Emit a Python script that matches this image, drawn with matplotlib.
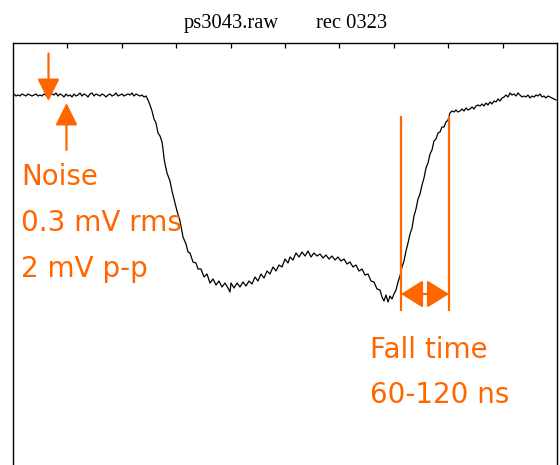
import matplotlib
matplotlib.use("Agg")
import matplotlib.pyplot as plt
import numpy as np

# trace: time in ns, amplitude in mV
time_ns = [
    2, 6, 10, 14, 18, 22, 26, 30, 34, 38, 42, 46, 50, 54, 58, 62, 66, 70, 74, 78,
    82, 86, 90, 94, 98, 102, 106, 110, 114, 118, 122, 126, 130, 134, 138, 142, 146, 150, 154, 158,
    162, 166, 170, 174, 178, 182, 186, 190, 194, 198, 202, 206, 210, 214, 218, 222, 226, 230, 234, 238,
    242, 246, 250, 254, 258, 262, 266, 270, 274, 278, 282, 286, 290, 294, 298, 300, 302, 304, 308, 314,
    318, 322, 328, 334, 340, 346, 350, 354, 360, 366, 370, 376, 382, 388, 394, 400, 406, 412, 418, 424,
    430, 434, 436, 442, 448, 454, 460, 466, 472, 478, 484, 490, 496, 502, 508, 514, 520, 526, 532, 538,
    544, 550, 554, 560, 566, 572, 578, 584, 590, 596, 602, 608, 614, 620, 626, 632, 638, 644, 650, 656,
    662, 668, 674, 680, 686, 692, 698, 704, 710, 716, 722, 728, 734, 738, 742, 746, 750, 754, 758, 762,
    766, 770, 774, 778, 782, 786, 790, 794, 798, 802, 806, 810, 814, 818, 822, 826, 830, 834, 838, 842,
    846, 850, 854, 858, 862, 866, 870, 874, 878, 882, 886, 890, 894, 898, 902, 906, 910, 914, 918, 922,
    926, 930, 934, 938, 942, 946, 950, 954, 958, 962, 966, 970, 974, 978, 982, 986, 990, 994, 998, 1002,
    1006, 1010, 1014, 1018, 1022, 1026, 1030, 1034, 1038, 1042, 1046, 1050, 1054, 1058, 1062, 1066, 1070, 1074, 1078, 1082,
    1086,
]
signal_mv = [
    0.5, -0.5, 0, -0.5, 0.5, 0, -0.5, 0.5, 0, -0.5, 0, 0.5, -0.5, 0, -0.5, 0.5, 0, -1, 0, 0.5,
    0, 1, -0.5, 0.5, 0, -1, 0.5, -0.5, 0, -1, 0.5, -0.5, 0, 1, -0.5, 0.5, 0, -1, 0.5, 1,
    -0.5, 0.5, 0, -0.5, 0.5, 0, -1, 0, 0.5, -0.5, 0, 1, -0.5, 0, 0.5, -0.5, 0, 0.5, 0, 1,
    -0.5, 0.5, 0, -0.5, 0, -1, -0.5, -2.5, -5, -8, -12, -14, -19, -20.5, -23.5, -27, -31.5, -34.5, -39, -43,
    -48, -52, -58, -63, -71, -74.5, -78.5, -79, -83.5, -84, -87, -87, -91, -89.5, -94, -92, -95, -93, -96, -94,
    -96.5, -98.5, -94, -96.5, -94, -96, -93.5, -95.5, -93, -94.5, -91, -93, -89.5, -91.5, -88, -89.5, -86, -88, -85, -86,
    -82, -84, -81, -82.5, -79, -81, -78.5, -80.5, -78, -81, -79, -80.5, -79.5, -81.5, -80, -82, -80.5, -82.5, -81, -83,
    -82, -84.5, -83.5, -86, -85, -88, -87, -90, -89.5, -93, -93.5, -97, -97.5, -101, -103, -100, -103.5, -100.5, -102, -99.5,
    -97.5, -93.5, -90.5, -86, -83, -78, -74, -69.5, -66.5, -60.5, -57, -52, -49.5, -45, -41.5, -36.5, -34, -29.5, -27.5, -23,
    -22, -19, -18.5, -16, -16, -13.5, -12.5, -9, -8, -8.5, -7.5, -8.5, -8, -7, -8, -6.5, -7.5, -7, -6, -7,
    -5.5, -5, -5.5, -4.5, -5.5, -4, -5, -3.5, -4.5, -3, -3.5, -2, -3, -1.5, -1, 0, -1, 1, 0, 0.5,
    -0.5, 1, 0, -1, -0.5, -1, 0, -1.5, -0.5, -1, 0, -0.5, 0.5, -1, -0.5, -1.5, -0.5, -1, -1.5, -2,
    -2.5,
]

title_left, title_right = "ps3043.raw", "rec 0323"
noise_lines = ["Noise", "0.3 mV rms", "2 mV p-p"]
fall_lines = ["Fall time", "60-120 ns"]
fall_start, fall_end = 776, 872  # ns, the two markers

ORANGE = "#FF6600"

fig = plt.figure(figsize=(5.6, 4.65), dpi=100)
# the box runs off the bottom of the picture
ax = fig.add_axes([13 / 560, 1 - 520 / 465, 544 / 560, (520 - 42.7) / 465])
ax.plot(time_ns, signal_mv, color="black", lw=0.9)
ax.set_xlim(0, 1088)
ax.set_ylim(-212.5, 26.15)

ax.set_xticks(np.linspace(0, 1088, 11)[1:-1])
ax.set_yticks([])
ax.tick_params(axis="x", direction="in", length=3.8, width=0.9, top=True, bottom=True,
               labeltop=False, labelbottom=False)
for s in ax.spines.values():
    s.set_linewidth(1.0)

ty = 1 - 28.3 / 465
fig.text(184 / 560, ty, title_left, ha="left", va="baseline",
         family="Liberation Serif", fontsize=14.8)
fig.text(316 / 560, ty, title_right, ha="left", va="baseline",
         family="Liberation Serif", fontsize=14.8)

# noise arrows
head = dict(arrowstyle="-|>,head_length=0.8,head_width=0.4", mutation_scale=17,
            color=ORANGE, lw=1.6, shrinkA=0, shrinkB=0)
ax.annotate("", xy=(71, -3), xytext=(71, 20.8), arrowprops=head)
ax.annotate("", xy=(107, -4), xytext=(107, -27.5), arrowprops=head)

for i, txt in enumerate(noise_lines):
    ax.text(16, -45 - 23 * i, txt, color=ORANGE, fontsize=20, va="baseline", ha="left")

# fall time markers
for t in (fall_start, fall_end):
    ax.plot([t, t], [-11, -107.5], color=ORANGE, lw=1.6)
ax.annotate("", xy=(fall_start, -99.5), xytext=(fall_end, -99.5),
            arrowprops=dict(arrowstyle="<|-|>,head_length=0.8,head_width=0.5",
                            mutation_scale=17, color=ORANGE, lw=1.6,
                            shrinkA=0, shrinkB=0))
for i, txt in enumerate(fall_lines):
    ax.text(714, -131.5 - 22.5 * i, txt, color=ORANGE, fontsize=20, va="baseline", ha="left")

fig.savefig("out.png", dpi=100)
